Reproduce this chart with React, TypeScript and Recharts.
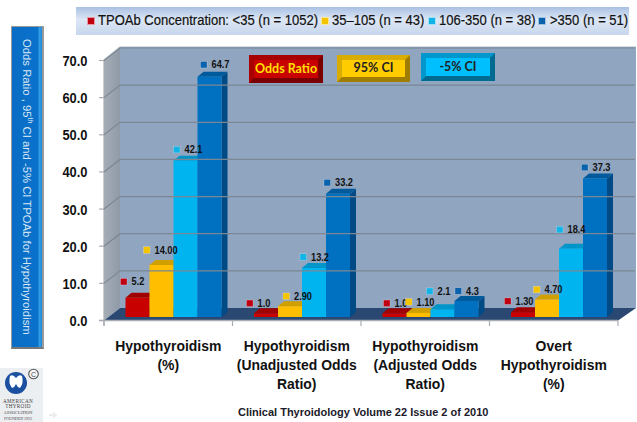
import React from "react";
import { BarChart, Bar, XAxis, YAxis, Legend, LabelList, ReferenceLine, Customized } from "recharts";

const categories = [
  ["Hypothyroidism", "(%)"],
  ["Hypothyroidism", "(Unadjusted Odds", "Ratio)"],
  ["Hypothyroidism", "(Adjusted Odds", "Ratio)"],
  ["Overt", "Hypothyroidism", "(%)"],
];
const lowValues = [5.2, 1.0, 1.0, 1.3];
const midValues = [14.0, 2.9, 1.1, 4.7];
const highValues = [42.1, 13.2, 2.1, 18.4];
const topValues = [64.7, 33.2, 4.3, 37.3];
const lowLabels = ["5.2", "1.0", "1.0", "1.30"];
const midLabels = ["14.00", "2.90", "1.10", "4.70"];
const highLabels = ["42.1", "13.2", "2.1", "18.4"];
const topLabels = ["64.7", "33.2", "4.3", "37.3"];
const yTicks = [0, 10, 20, 30, 40, 50, 60, 70];
const seriesNames = ["TPOAb Concentration: <35 (n = 1052)", "35–105 (n = 43)", "106-350 (n = 38)", ">350 (n = 51)"];

const rows = categories.map((c, i) => ({
  key: String(i),
  low: lowValues[i], mid: midValues[i], high: highValues[i], top: topValues[i],
  lowLabel: lowLabels[i], midLabel: midLabels[i], highLabel: highLabels[i], topLabel: topLabels[i],
}));

// presentation only
const FRONT = { dx: -5.5, dy: 3.5 };
const BACK = { dx: 10.5, dy: -9 };
const PLOT = { left: 109.5, right: 623.5, top: 57, bottom: 317 };
const DEPTH = { x: 6, y: 5 };
const STYLES = [
  { face: "#c80000", side: "#8a0000", top: "#a00000", mark: "#c00010" },
  { face: "#ffbf00", side: "#c08a00", top: "#d0a000", mark: "#f5c400" },
  { face: "#00b4f0", side: "#0085b5", top: "#0095c8", mark: "#12b4e8" },
  { face: "#0070c0", side: "#004a85", top: "#005a9c", mark: "#0a62ad" },
];
// label placement relative to each bar's top-left corner [marker left, marker centre y]
const LABEL_OFFSETS = [
  [[-5, -16], [-7.5, -10], [1, -10], [-6.5, -11]],
  [[-6, -15], [5, -10], [-1, -11], [-1.5, -10]],
  [[0, -11], [-2, -11], [-4, -18], [-2.5, -19]],
  [[3, -12], [-2, -11], [0.5, -10], [-1.5, -11]],
];
const LEGEND_POS = [[10, 22], [244, 256], [351, 363], [461, 474]];

const Bar3D = (s: number) => (p: any) => {
  const { x, y, width, height } = p;
  const c = STYLES[s];
  const d = DEPTH;
  return (
    <g>
      <polygon points={`${x + width},${y} ${x + width + d.x},${y - d.y} ${x + width + d.x},${y + height - d.y} ${x + width},${y + height}`} fill={c.side} />
      <polygon points={`${x},${y} ${x + d.x},${y - d.y} ${x + width + d.x},${y - d.y} ${x + width},${y}`} fill={c.top} />
      <rect x={x} y={y} width={width} height={height} fill={c.face} />
    </g>
  );
};

const Tag = (s: number) => (p: any) => {
  const { x, y, value, index } = p;
  const [dx, dy] = LABEL_OFFSETS[s][index];
  const mx = x + dx;
  const my = y + dy;
  return (
    <g>
      <rect x={mx} y={my - 3.25} width={6.5} height={6.5} fill={STYLES[s].mark} stroke="rgba(255,255,255,0.45)" strokeWidth={0.5} />
      <text transform={`translate(${mx + 11} ${my + 3.7}) scale(0.88 1)`} fontFamily="Liberation Sans" fontWeight="bold" fontSize={10.5} fill="#111">{value}</text>
    </g>
  );
};

const Grid3D = (p: any) => {
  const { x1, x2, y1 } = p.segment ? { x1: p.segment[0].x, x2: p.segment[1].x, y1: p.segment[0].y } : p;
  const a = `${x1 + FRONT.dx},${y1 + FRONT.dy}`;
  const b = `${x1 + BACK.dx},${y1 + BACK.dy}`;
  const c = `${x2 + BACK.dx + 1},${y1 + BACK.dy}`;
  return <polyline points={`${a} ${b} ${c}`} fill="none" stroke="#7b8794" strokeWidth={1.2} />;
};

const Room = () => (
  <g>
    <defs>
      <linearGradient id="leftWall" x1="0" y1="0" x2="1" y2="0">
        <stop offset="0" stopColor="#a5acb6" />
        <stop offset="1" stopColor="#8f9aa8" />
      </linearGradient>
    </defs>
    <polyline points="104,60 120,47 636,47" fill="none" stroke="#d9dde2" strokeWidth={2} />
    <rect x={120} y={47} width={516} height={261} fill="#8fa5c0" />
    <polygon points="104,60 120,47 120,308 104,320.5" fill="url(#leftWall)" />
    <polygon points="104,320.5 120,308 636,308 618,320.5" fill="#2a4872" />
  </g>
);

const Floor = () => (
  <g>
    <line x1={99} y1={320.5} x2={618} y2={320.5} stroke="#a9adb3" strokeWidth={1.4} />
    <line x1={104} y1={60} x2={104} y2={326} stroke="#a9adb3" strokeWidth={1.2} />
    {[104, 232.5, 361, 489.5, 618].map((x) => (
      <line key={x} x1={x} y1={320.5} x2={x} y2={326} stroke="#a9adb3" strokeWidth={1.2} />
    ))}
  </g>
);

const YTick = (p: any) => {
  const { y, payload } = p;
  return (
    <g>
      <line x1={99} x2={104} y1={y + 3.5} y2={y + 3.5} stroke="#a9adb3" strokeWidth={1.2} />
      <text transform={`translate(87.5 ${y + 9}) scale(0.86 1)`} textAnchor="end" fontFamily="Liberation Sans" fontWeight="bold" fontSize={15} fill="#111">
        {Number(payload.value).toFixed(1)}
      </text>
    </g>
  );
};

const XTick = (p: any) => {
  const { x, payload } = p;
  const lines = categories[Number(payload.value)];
  return (
    <text transform={`translate(${x - 5.5} 0) scale(0.93 1)`} textAnchor="middle" fontFamily="Liberation Sans" fontWeight="bold" fontSize={15} fill="#111">
      {lines.map((l, i) => (
        <tspan key={i} x={0} y={351 + i * 19.2}>{l}</tspan>
      ))}
    </text>
  );
};

const LegendBox = () => (
  <div style={{ position: "relative", width: 553, height: 28, background: "linear-gradient(#a9c0e2, #dde7f5 45%, #c7d6ec)" }}>
    {seriesNames.map((n, i) => (
      <React.Fragment key={n}>
        <span style={{ position: "absolute", left: LEGEND_POS[i][0] + 1, top: 9.5, width: 8, height: 8, background: STYLES[i].mark, border: "0.5px solid rgba(255,255,255,0.6)", boxSizing: "border-box" }} />
        <span style={{ position: "absolute", left: LEGEND_POS[i][1], top: 5, transform: "scaleX(0.93)", transformOrigin: "0 0", fontFamily: "Liberation Sans", fontSize: 14, lineHeight: "16px", color: "#111", whiteSpace: "nowrap", WebkitTextStroke: "0.2px #111" }}>{n}</span>
      </React.Fragment>
    ))}
  </div>
);

const Button = ({ left, top, w, h, face, dark, light, label, color, size }: any) => (
  <div style={{
    position: "absolute", left, top, width: w, height: h, boxSizing: "border-box", background: face,
    borderStyle: "solid", borderWidth: 5, borderColor: `${light} ${dark} ${dark} ${light}`,
    textAlign: "center", fontFamily: "Lato", fontWeight: 700, fontSize: size, lineHeight: `${h - 11}px`, color,
  }}>{label}</div>
);

export default function App() {
  return (
    <div style={{ position: "absolute", left: 0, top: 0, width: 637, height: 422, background: "#fff", overflow: "hidden" }}>
      <BarChart
        width={637}
        height={422}
        data={rows}
        margin={{ left: 0, right: 637 - PLOT.right, top: PLOT.top, bottom: 0 }}
        barSize={24}
        barGap={0}
      >
        <Customized component={Room} />
        {yTicks.slice(1).map((t) => (
          <ReferenceLine key={t} y={t} shape={Grid3D} />
        ))}
        <XAxis dataKey="key" height={422 - PLOT.bottom} axisLine={false} tickLine={false} tick={XTick} interval={0} />
        <YAxis width={PLOT.left} domain={[0, 70]} ticks={yTicks} axisLine={false} tickLine={false} tick={YTick} interval={0} />
        <Customized component={Floor} />
        <Bar dataKey="low" name={seriesNames[0]} fill={STYLES[0].face} shape={Bar3D(0)} isAnimationActive={false}>
          <LabelList dataKey="lowLabel" content={Tag(0)} />
        </Bar>
        <Bar dataKey="mid" name={seriesNames[1]} fill={STYLES[1].face} shape={Bar3D(1)} isAnimationActive={false}>
          <LabelList dataKey="midLabel" content={Tag(1)} />
        </Bar>
        <Bar dataKey="high" name={seriesNames[2]} fill={STYLES[2].face} shape={Bar3D(2)} isAnimationActive={false}>
          <LabelList dataKey="highLabel" content={Tag(2)} />
        </Bar>
        <Bar dataKey="top" name={seriesNames[3]} fill={STYLES[3].face} shape={Bar3D(3)} isAnimationActive={false}>
          <LabelList dataKey="topLabel" content={Tag(3)} />
        </Bar>
        <Legend layout="horizontal" verticalAlign="middle" align="center" content={LegendBox} wrapperStyle={{ top: 7, left: 76, width: 553 }} />
      </BarChart>

      <Button left={249} top={55} w={74} h={28} face="#c80000" dark="#7a0000" light="#a80000" label="Odds Ratio" color="#ffe000" size={12.5} />
      <Button left={337} top={55} w={73} h={27} face="#ffcc00" dark="#a07c00" light="#d8ac00" label="95% CI" color="#222" size={12.5} />
      <Button left={421} top={53} w={74} h={28} face="#00bfff" dark="#006a90" light="#0098cc" label="-5% CI" color="#222" size={12.5} />

      <div style={{ position: "absolute", left: 11, top: 26, width: 33, height: 323, boxSizing: "border-box", border: "1px solid #9a9a9a", borderRight: "2px solid #9a9a9a", borderBottom: "2px solid #777", background: "linear-gradient(90deg, #0a6cc4 0, #0a72cc 86%, #3a9fe8 92%, #1c86d8 100%)" }}>
        <div style={{ position: "absolute", left: 15, top: 12, width: 0, height: 0 }}>
          <div style={{ transform: "rotate(90deg)", transformOrigin: "0 0", position: "absolute", left: 7, top: 0, width: 300, whiteSpace: "nowrap", fontFamily: "Liberation Sans", fontSize: 11.3, lineHeight: "14px", color: "#d8e6f4" }}>
            Odds Ratio , 95<sup style={{ fontSize: 7, lineHeight: 0 }}>th</sup> CI and -5% CI TPOAb for Hypothyroidism
          </div>
        </div>
      </div>

      <svg style={{ position: "absolute", left: 0, top: 368 }} width={60} height={54}>
        <rect x={0} y={0} width={43} height={54} fill="#eceff1" />
        <ellipse cx={16} cy={15} rx={11} ry={11} fill="#1b4fa0" />
        <path d="M10 8 Q13 6 16 10 Q19 6 22 8 Q24 15 20 20 Q17 19 16 16 Q15 19 12 20 Q8 15 10 8Z" fill="#fff" />
        <circle cx={33.5} cy={6} r={4.8} fill="#f7f7f7" stroke="#555" strokeWidth={1.1} />
        <text x={33.5} y={8.5} fontSize={7} textAnchor="middle" fontFamily="Liberation Sans" fill="#444">C</text>
        <g fontFamily="Liberation Serif" fontSize={5.2} fill="#444" textAnchor="middle">
          <text x={18} y={34.5} letterSpacing={0.3}>AMERICAN</text>
          <text x={18} y={40} letterSpacing={0.3}>THYROID</text>
          <text x={18} y={45.5} fontSize={4.4}>ASSOCIATION</text>
          <text x={18} y={51.5} fontSize={4}>FOUNDED 1923</text>
        </g>
        <path d="M49 46 h4 v-2.5 l4.5 3.5 l-4.5 3.5 v-2.5 h-4 z" fill="#ececec" />
      </svg>

      <div style={{ position: "absolute", left: 238, top: 405, fontFamily: "Liberation Sans", fontWeight: 700, fontSize: 11, lineHeight: "14px", color: "#1a1a2a", whiteSpace: "nowrap" }}>
        Clinical Thyroidology Volume 22 Issue 2 of 2010
      </div>
    </div>
  );
}
